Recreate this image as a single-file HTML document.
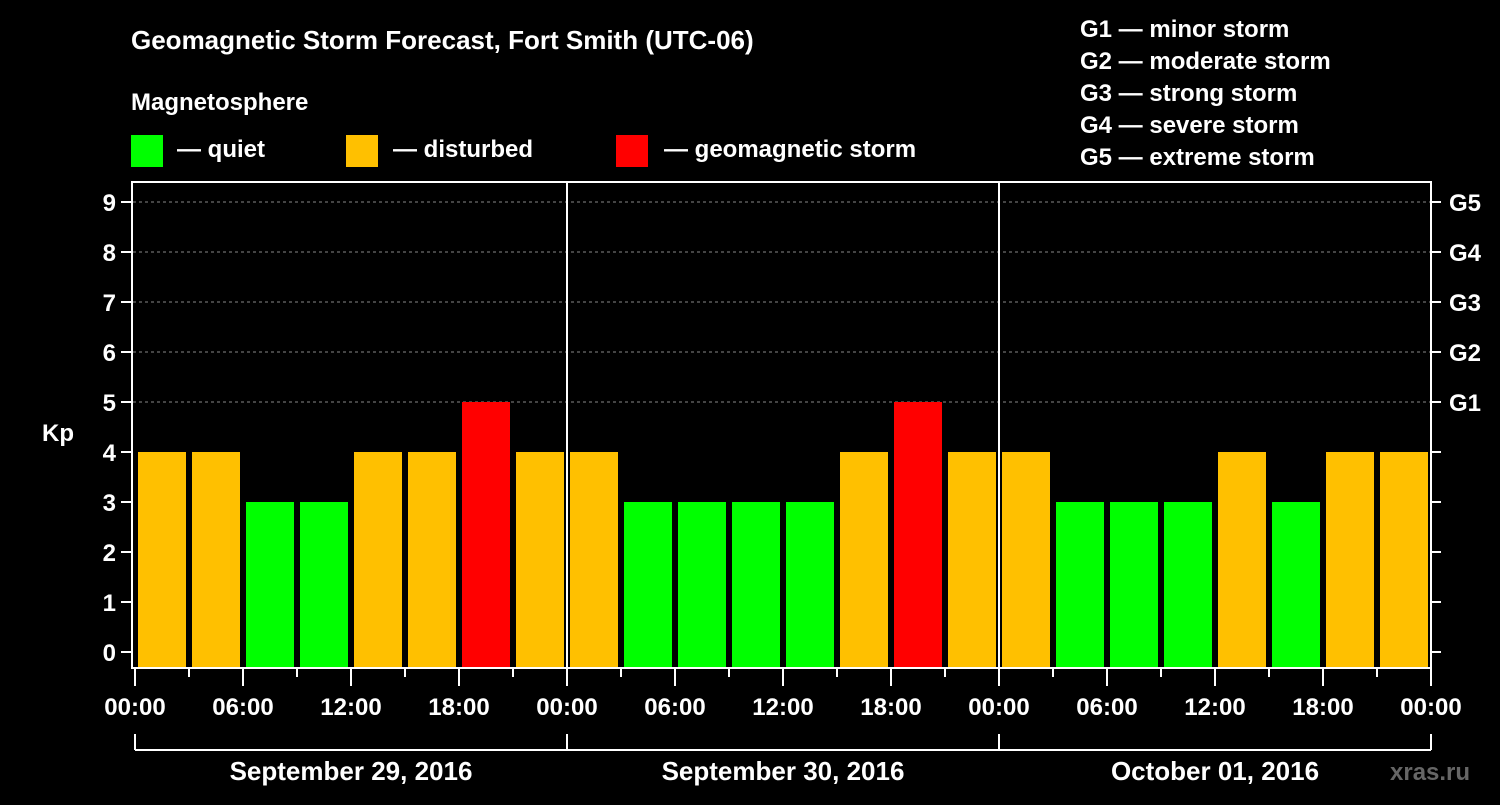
<!DOCTYPE html>
<html><head><meta charset="utf-8"><style>
body{margin:0;background:#000;width:1500px;height:800px;overflow:hidden}
svg text{font-family:"Liberation Sans",sans-serif;font-weight:bold;fill:#fff}
</style></head><body>
<svg id="c" width="1500" height="800">
<text x="131" y="49" font-size="26">Geomagnetic Storm Forecast, Fort Smith (UTC-06)</text>
<text x="131" y="110" font-size="24">Magnetosphere</text>
<rect x="131" y="135" width="32" height="32" fill="#00ff00"/>
<text x="177" y="157" font-size="24">— quiet</text>
<rect x="346" y="135" width="32" height="32" fill="#ffc000"/>
<text x="393" y="157" font-size="24">— disturbed</text>
<rect x="616" y="135" width="32" height="32" fill="#ff0000"/>
<text x="664" y="157" font-size="24">— geomagnetic storm</text>
<g font-size="24">
<text x="1080" y="37">G1 — minor storm</text>
<text x="1080" y="69">G2 — moderate storm</text>
<text x="1080" y="101">G3 — strong storm</text>
<text x="1080" y="133">G4 — severe storm</text>
<text x="1080" y="165">G5 — extreme storm</text>
</g>
<text x="42" y="441" font-size="24">Kp</text>
<g id="plot"></g>
<text x="1390" y="780" font-size="24" fill="#666" style="fill:#666">xras.ru</text>
</svg>
<script>
const kpValues=[4,4,3,3,4,4,5,4, 4,3,3,3,3,4,5,4, 4,3,3,3,4,3,4,4];
const yTicks=[0,1,2,3,4,5,6,7,8,9];
const gLabels=["G1","G2","G3","G4","G5"];
const gLevels=[5,6,7,8,9];
const days=["September 29, 2016","September 30, 2016","October 01, 2016"];
const hourLabels=["00:00","06:00","12:00","18:00"];
const NS="http://www.w3.org/2000/svg";
const g=document.getElementById("plot");
const X0=135,DAY=432,SLOT=DAY/8;
const y=v=>652-50*v;
const x=i=>X0+SLOT*i;
function mk(t,a){const e=document.createElementNS(NS,t);for(const k in a)e.setAttribute(k,a[k]);g.appendChild(e);return e;}
// grid
gLevels.forEach(v=>{const l=mk("line",{x1:133,x2:1431,y1:y(v),y2:y(v),stroke:"#888","stroke-dasharray":"3,3","stroke-width":1});

});
// bars
kpValues.forEach((v,i)=>{const c=v>=5?"#ff0000":v>=4?"#ffc000":"#00ff00";
const r=mk("rect",{x:x(i)+3,y:y(v),width:48,height:668-y(v),fill:c});

});
// day separators
for(let d=1;d<days.length;d++){const l=mk("line",{x1:x(d*8),x2:x(d*8),y1:182,y2:668,stroke:"#fff","stroke-width":2});

}
// frame
const f=mk("rect",{x:132,y:182,width:1299,height:486,fill:"none",stroke:"#fff","stroke-width":2});


// y ticks
yTicks.forEach(v=>{mk("line",{x1:121,x2:132,y1:y(v),y2:y(v),stroke:"#fff","stroke-width":2});
mk("line",{x1:1431,x2:1441,y1:y(v),y2:y(v),stroke:"#fff","stroke-width":2});
const t=mk("text",{x:116,y:y(v)+9,"font-size":24,"text-anchor":"end"});t.textContent=v;

});
gLevels.forEach((v,i)=>{const t=mk("text",{x:1449,y:y(v)+9,"font-size":24});t.textContent=gLabels[i];

});
// x ticks
for(let i=0;i<=days.length*8;i++){const long=i%2==0;
mk("line",{x1:x(i),x2:x(i),y1:668,y2:long?686:677,stroke:"#fff","stroke-width":2});
if(long){const t=mk("text",{x:x(i),y:715,"font-size":24,"text-anchor":"middle"});t.textContent=hourLabels[(i/2)%4];

}}
// day brackets
mk("line",{x1:x(0),x2:x(days.length*8),y1:750,y2:750,stroke:"#fff","stroke-width":2});
for(let d=0;d<=days.length;d++)mk("line",{x1:x(d*8),x2:x(d*8),y1:734,y2:750,stroke:"#fff","stroke-width":2});
days.forEach((s,d)=>{const t=mk("text",{x:x(d*8)+DAY/2,y:780,"font-size":26,"text-anchor":"middle"});t.textContent=s;

});
</script>
</body></html>
